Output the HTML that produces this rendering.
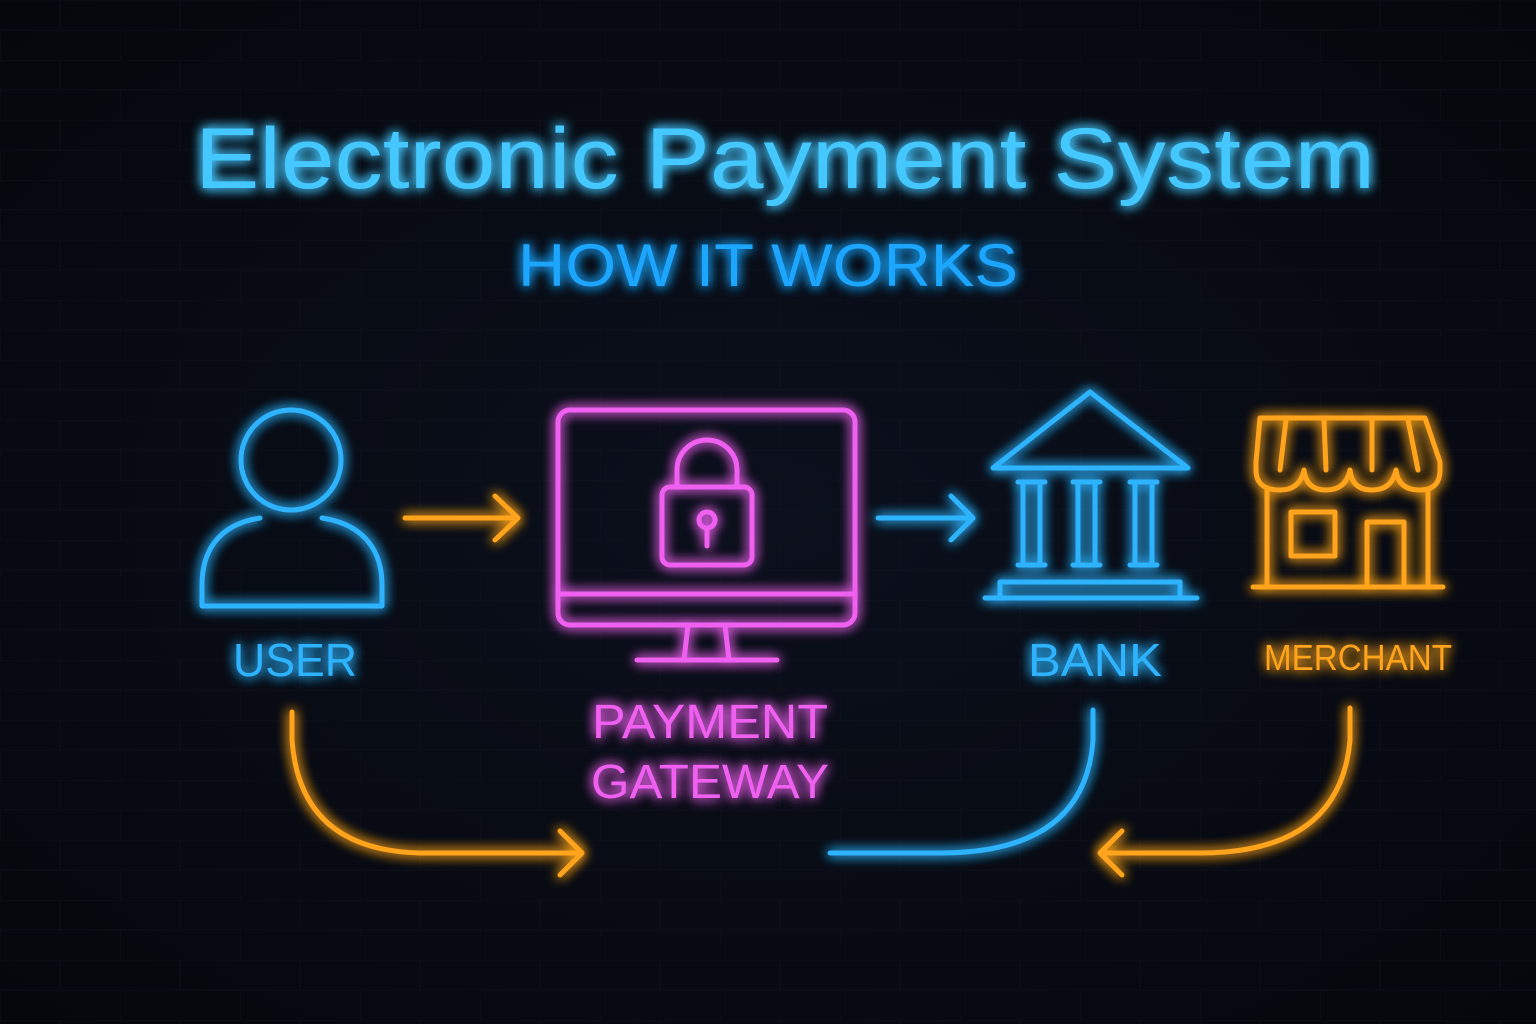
<!DOCTYPE html>
<html><head><meta charset="utf-8"><style>
html,body{margin:0;padding:0;background:#070910;}
svg{display:block}
text{font-family:"Liberation Sans","DejaVu Sans",sans-serif;}
</style></head><body>
<svg width="1536" height="1024" viewBox="0 0 1536 1024" xmlns="http://www.w3.org/2000/svg">
<defs>
<radialGradient id="bg" cx="50%" cy="50%" r="70%">
<stop offset="0" stop-color="#0b101c"/><stop offset="1" stop-color="#05070c"/></radialGradient>
<filter id="g" x="-30%" y="-30%" width="160%" height="160%">
<feGaussianBlur stdDeviation="6" result="b"/>
<feMerge><feMergeNode in="b"/><feMergeNode in="b"/><feMergeNode in="SourceGraphic"/></feMerge></filter>
<pattern id="br" width="120" height="60" patternUnits="userSpaceOnUse">
<path d="M0 0H120M0 30H120M60 0V30M0 30V60" stroke="#111623" stroke-width="1.5" fill="none"/></pattern>
</defs>
<rect width="1536" height="1024" fill="url(#bg)"/>
<rect width="1536" height="1024" fill="url(#br)" opacity="0.4"/>
<g filter="url(#g)">
<text x="785" y="188" text-anchor="middle" font-size="86" fill="#44c8ff" textLength="1180" lengthAdjust="spacingAndGlyphs">Electronic Payment System</text>
<text x="768" y="286" text-anchor="middle" font-size="60" fill="#1fa6ff" textLength="500" lengthAdjust="spacingAndGlyphs">HOW IT WORKS</text>
</g>
<g fill="none" stroke-width="5" stroke-linecap="round" stroke-linejoin="round" filter="url(#g)">
<g stroke="#2fb4ff">
<circle cx="291" cy="460" r="50"/>
<path d="M260 518 C215 525 202 555 202 585 V606 H382 V585 C382 555 368 525 322 518"/>
</g>
<path d="M405 518 H518 M495 496 L518 518 L495 540" stroke="#ffa41a"/>
<g stroke="#f060f0">
<rect x="558" y="410" width="297" height="215" rx="12"/>
<path d="M558 594 H855 M688 625 L684 660 M725 625 L729 660 M637 660 H777"/>
<path d="M677 487 V470 A30 30 0 0 1 737 470 V487"/>
<rect x="662" y="487" width="90" height="78" rx="8"/>
<circle cx="707" cy="520" r="8"/><path d="M707 528 V546"/>
</g>
<path d="M878 518 H973 M951 496 L973 518 L951 540" stroke="#2fb4ff"/>
<g stroke="#2fb4ff">
<path d="M993 468 L1090 392 L1188 468 Z"/>
<path d="M1018 482 H1045 M1023 482 V565 M1040 482 V565 M1018 565 H1045"/>
<path d="M1073 482 H1100 M1078 482 V565 M1095 482 V565 M1073 565 H1100"/>
<path d="M1130 482 H1157 M1135 482 V565 M1152 482 V565 M1130 565 H1157"/>
<path d="M1000 582 H1180 V598 M1000 582 V598 M985 598 H1197"/>
</g>
<g stroke="#ffa41a">
<path d="M1260 418 H1425 L1440 462 V470 Q1440 490 1420 490 Q1398 490 1396 470 Q1392 490 1372 490 Q1352 490 1350 470 Q1346 490 1326 490 Q1306 490 1304 470 Q1300 490 1280 490 Q1256 490 1256 470 V462 Z"/>
<path d="M1286 420 L1280 470 M1324 420 L1326 470 M1372 420 L1372 470 M1408 420 L1418 470"/>
<path d="M1267 490 V585 M1428 490 V585 M1253 587 H1443"/>
<rect x="1291" y="512" width="44" height="44"/>
<path d="M1367 585 V522 H1404 V585"/>
</g>
<path d="M292 712 V740 Q300 850 420 853 H582 M560 831 L582 853 L560 875" stroke="#ffa41a"/>
<path d="M1093 710 V740 Q1085 853 940 853 H830" stroke="#2fb4ff"/>
<path d="M1350 708 V740 Q1340 853 1200 853 H1100 M1122 831 L1100 853 L1122 875" stroke="#ffa41a"/>
</g>
<g filter="url(#g)">
<text x="295" y="676" text-anchor="middle" font-size="46" fill="#2fb4ff" textLength="124" lengthAdjust="spacingAndGlyphs">USER</text>
<text x="710" y="738" text-anchor="middle" font-size="48" fill="#f060f0" textLength="236" lengthAdjust="spacingAndGlyphs">PAYMENT</text>
<text x="710" y="798" text-anchor="middle" font-size="48" fill="#f060f0" textLength="238" lengthAdjust="spacingAndGlyphs">GATEWAY</text>
<text x="1095" y="676" text-anchor="middle" font-size="46" fill="#2fb4ff" textLength="134" lengthAdjust="spacingAndGlyphs">BANK</text>
<text x="1358" y="670" text-anchor="middle" font-size="36" fill="#ffa41a" textLength="188" lengthAdjust="spacingAndGlyphs">MERCHANT</text>
</g>
</svg>
</body></html>
